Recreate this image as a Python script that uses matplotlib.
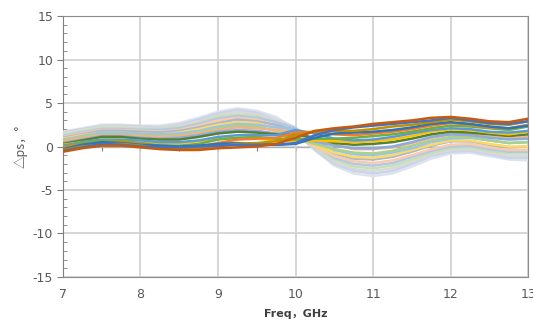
# Phase-difference curves vs frequency, Excel-style line chart

import matplotlib
matplotlib.use('Agg')
from matplotlib import pyplot as plt
from matplotlib.ticker import NullFormatter
import numpy as np

# frequency grid (GHz)
freq = [7.0, 7.25, 7.5, 7.75, 8.0, 8.25, 8.5, 8.75, 9.0, 9.25, 9.5, 9.75,
        10.0, 10.25, 10.5, 10.75, 11.0, 11.25, 11.5, 11.75, 12.0, 12.25,
        12.5, 12.75, 13.0]

# curves ordered from the dark ones (low on the left) to the light ones (high on the left)
c00 = [-0.6, -0.2, 0.1, 0.1, -0.1, -0.3, -0.4, -0.4, -0.2, -0.1, 0.0, 0.3, 1.0, 1.8, 2.1, 2.3, 2.6, 2.8, 3.0, 3.3, 3.4, 3.2, 2.9, 2.8, 3.2]
c01 = [-0.5, -0.1, 0.3, 0.2, 0.0, -0.1, -0.1, 0.0, 0.1, 0.2, 0.2, 0.2, 0.4, 1.3, 1.9, 2.2, 2.4, 2.6, 2.8, 3.0, 3.3, 3.0, 2.7, 2.6, 2.9]
c02 = [-0.4, 0.0, 0.2, 0.3, 0.1, -0.2, -0.3, -0.2, 0.0, 0.3, 0.4, 0.6, 1.3, 1.7, 1.8, 1.8, 2.0, 2.3, 2.5, 2.8, 3.1, 2.9, 2.6, 2.5, 2.9]
c03 = [-0.3, 0.2, 0.5, 0.4, 0.2, 0.1, 0.0, 0.1, 0.3, 0.4, 0.3, 0.2, 0.3, 1.0, 1.5, 1.6, 1.7, 1.9, 2.2, 2.6, 2.8, 2.6, 2.3, 2.1, 2.4]
c04 = [-0.1, 0.2, 0.5, 0.5, 0.3, 0.0, -0.1, 0.0, 0.4, 0.8, 0.9, 1.0, 1.6, 1.7, 1.4, 1.3, 1.5, 1.7, 2.0, 2.4, 2.7, 2.5, 2.2, 2.1, 2.5]
c05 = [0.0, 0.4, 0.7, 0.7, 0.4, 0.1, 0.1, 0.3, 0.8, 1.0, 1.1, 0.9, 0.8, 0.9, 0.9, 1.0, 1.2, 1.4, 1.7, 2.1, 2.4, 2.3, 2.1, 1.9, 2.3]
c06 = [0.1, 0.5, 0.8, 0.8, 0.7, 0.5, 0.5, 0.7, 1.1, 1.3, 1.3, 1.3, 1.9, 1.5, 0.9, 0.7, 0.8, 1.1, 1.5, 1.9, 2.1, 2.0, 1.7, 1.6, 1.8]
c07 = [0.2, 0.5, 0.7, 0.6, 0.4, 0.3, 0.4, 0.6, 0.9, 1.0, 0.9, 0.7, 0.6, 0.7, 0.6, 0.5, 0.6, 0.8, 1.2, 1.7, 2.0, 1.9, 1.6, 1.4, 1.7]
c08 = [0.3, 0.7, 1.1, 1.1, 0.9, 0.8, 0.8, 1.1, 1.5, 1.7, 1.6, 1.4, 1.4, 1.0, 0.4, 0.2, 0.3, 0.5, 0.9, 1.4, 1.7, 1.6, 1.4, 1.2, 1.4]
c09 = [0.4, 0.8, 1.2, 1.2, 1.0, 0.9, 1.0, 1.3, 1.7, 1.9, 1.8, 1.5, 1.0, 0.6, 0.1, -0.2, -0.2, 0.0, 0.5, 1.1, 1.4, 1.3, 1.0, 0.8, 0.9]
c10 = [0.6, 1.0, 1.3, 1.3, 1.2, 1.1, 1.2, 1.5, 1.9, 2.2, 2.1, 1.9, 1.7, 0.9, 0.2, -0.3, -0.3, -0.1, 0.4, 1.0, 1.4, 1.4, 1.1, 0.9, 1.1]
c11 = [0.7, 1.1, 1.4, 1.4, 1.3, 1.2, 1.3, 1.6, 2.1, 2.4, 2.3, 1.8, 0.9, 0.3, -0.3, -0.7, -0.8, -0.5, 0.1, 0.7, 1.1, 1.1, 0.7, 0.4, 0.5]
c12 = [0.8, 1.2, 1.6, 1.6, 1.5, 1.4, 1.5, 1.8, 2.3, 2.6, 2.5, 2.2, 2.0, 0.7, -0.4, -0.9, -1.0, -0.7, -0.2, 0.5, 0.9, 1.0, 0.7, 0.4, 0.5]
c13 = [0.9, 1.3, 1.6, 1.6, 1.5, 1.4, 1.6, 2.0, 2.5, 2.8, 2.7, 2.1, 1.2, 0.2, -0.7, -1.2, -1.3, -1.0, -0.4, 0.2, 0.7, 0.7, 0.3, 0.0, 0.0]
c14 = [1.0, 1.4, 1.8, 1.8, 1.7, 1.6, 1.8, 2.2, 2.7, 3.1, 2.9, 2.5, 1.8, 0.4, -0.8, -1.4, -1.5, -1.2, -0.6, 0.1, 0.6, 0.6, 0.2, -0.1, 0.0]
c15 = [1.1, 1.5, 1.9, 1.9, 1.8, 1.7, 1.9, 2.4, 3.0, 3.3, 3.1, 2.4, 1.1, 0.0, -1.1, -1.7, -1.9, -1.6, -1.0, -0.3, 0.2, 0.3, -0.1, -0.4, -0.4]
c16 = [1.2, 1.6, 2.0, 2.0, 1.9, 1.9, 2.1, 2.6, 3.2, 3.5, 3.3, 2.8, 2.1, 0.2, -1.3, -2.0, -2.2, -1.9, -1.2, -0.5, 0.0, 0.1, -0.3, -0.6, -0.6]
c17 = [1.3, 1.7, 2.1, 2.1, 2.0, 2.0, 2.2, 2.7, 3.4, 3.7, 3.5, 2.8, 1.5, -0.1, -1.5, -2.3, -2.5, -2.2, -1.5, -0.7, -0.2, -0.1, -0.5, -0.8, -0.8]
c18 = [1.5, 1.9, 2.3, 2.3, 2.2, 2.1, 2.4, 2.9, 3.6, 4.0, 3.7, 3.1, 2.2, -0.1, -1.8, -2.6, -2.8, -2.5, -1.8, -0.9, -0.4, -0.3, -0.7, -1.1, -1.1]
c19 = [1.6, 2.0, 2.4, 2.4, 2.3, 2.2, 2.5, 3.1, 3.8, 4.2, 3.9, 3.1, 1.6, -0.4, -2.0, -2.8, -3.1, -2.8, -2.0, -1.1, -0.6, -0.5, -0.9, -1.3, -1.3]
c20 = [1.7, 2.1, 2.5, 2.5, 2.4, 2.4, 2.7, 3.3, 4.0, 4.4, 4.1, 3.4, 2.0, -0.4, -2.2, -3.1, -3.4, -3.1, -2.3, -1.4, -0.8, -0.7, -1.1, -1.5, -1.6]

curves = [c00, c01, c02, c03, c04, c05, c06, c07, c08, c09, c10,
          c11, c12, c13, c14, c15, c16, c17, c18, c19, c20]

colors = ['#C55A11', '#4472C4', '#BF9000', '#2E75B6', '#ED7D31', '#70AD47',
          '#5B9BD5', '#FFC000', '#548235', '#8FAADC', '#F4B183', '#A9D18E',
          '#9DC3E6', '#FFD966', '#ADB9CA', '#F8CBAD', '#B4C7E7', '#C5E0B4',
          '#D9D9D9', '#C9D3EA', '#DDE3EE']

x_ticks = [7, 8, 9, 10, 11, 12, 13]
y_ticks = [-15, -10, -5, 0, 5, 10, 15]

plt.rcParams['font.family'] = ['DejaVu Sans', 'Noto Sans CJK SC']
plt.rcParams['axes.unicode_minus'] = False

fig = plt.figure(figsize=(5.33, 3.22), dpi=100)
ax = fig.add_axes([0.118, 0.140, 0.873, 0.810])

# light curves first so the saturated ones stay on top
for y, c in reversed(list(zip(curves, colors))):
    ax.plot(freq, y, color=c, lw=1.8, solid_capstyle='round', zorder=3)

ax.set_xlim(7, 13)
ax.set_ylim(-15, 15)
ax.set_xticks(x_ticks)
ax.set_yticks(y_ticks)
ax.set_yticks(np.arange(-15, 16, 1), minor=True)

ax.grid(True, which='major', color='#d0d0d0', lw=1.2, zorder=0)
ax.tick_params(axis='x', which='both', length=0, pad=8, labelsize=9, labelcolor='#595959')
ax.tick_params(axis='y', which='major', direction='out', length=4, width=0.8,
               color='#7f7f7f', labelsize=9, labelcolor='#595959', pad=3)
ax.tick_params(axis='y', which='minor', direction='in', length=3, width=0.6, color='#7f7f7f')

for side in ['top', 'right', 'bottom']:
    ax.spines[side].set_color('#8c8c8c')
ax.spines['left'].set_color('#7f7f7f')

# horizontal axis line crossing at zero, Excel style
zero_axis = ax.secondary_xaxis(0.5)
zero_axis.set_xticks(np.arange(7, 13.01, 0.5))
zero_axis.xaxis.set_major_formatter(NullFormatter())
zero_axis.xaxis.set_ticks_position('bottom')
zero_axis.tick_params(length=3, width=0.8, color='#7f7f7f', direction='out',
                      labelbottom=False, labeltop=False)
zero_axis.spines['bottom'].set_color('#7f7f7f')

ax.set_xlabel('Freq，GHz', fontsize=8, fontweight='bold', color='#404040', labelpad=6,
              family=['DejaVu Sans', 'Noto Sans CJK SC'])
ax.set_ylabel('△ps，°', fontsize=9, color='#595959', labelpad=4,
              family=['Noto Sans CJK SC', 'DejaVu Sans'])

fig.savefig('out.png', dpi=100)
